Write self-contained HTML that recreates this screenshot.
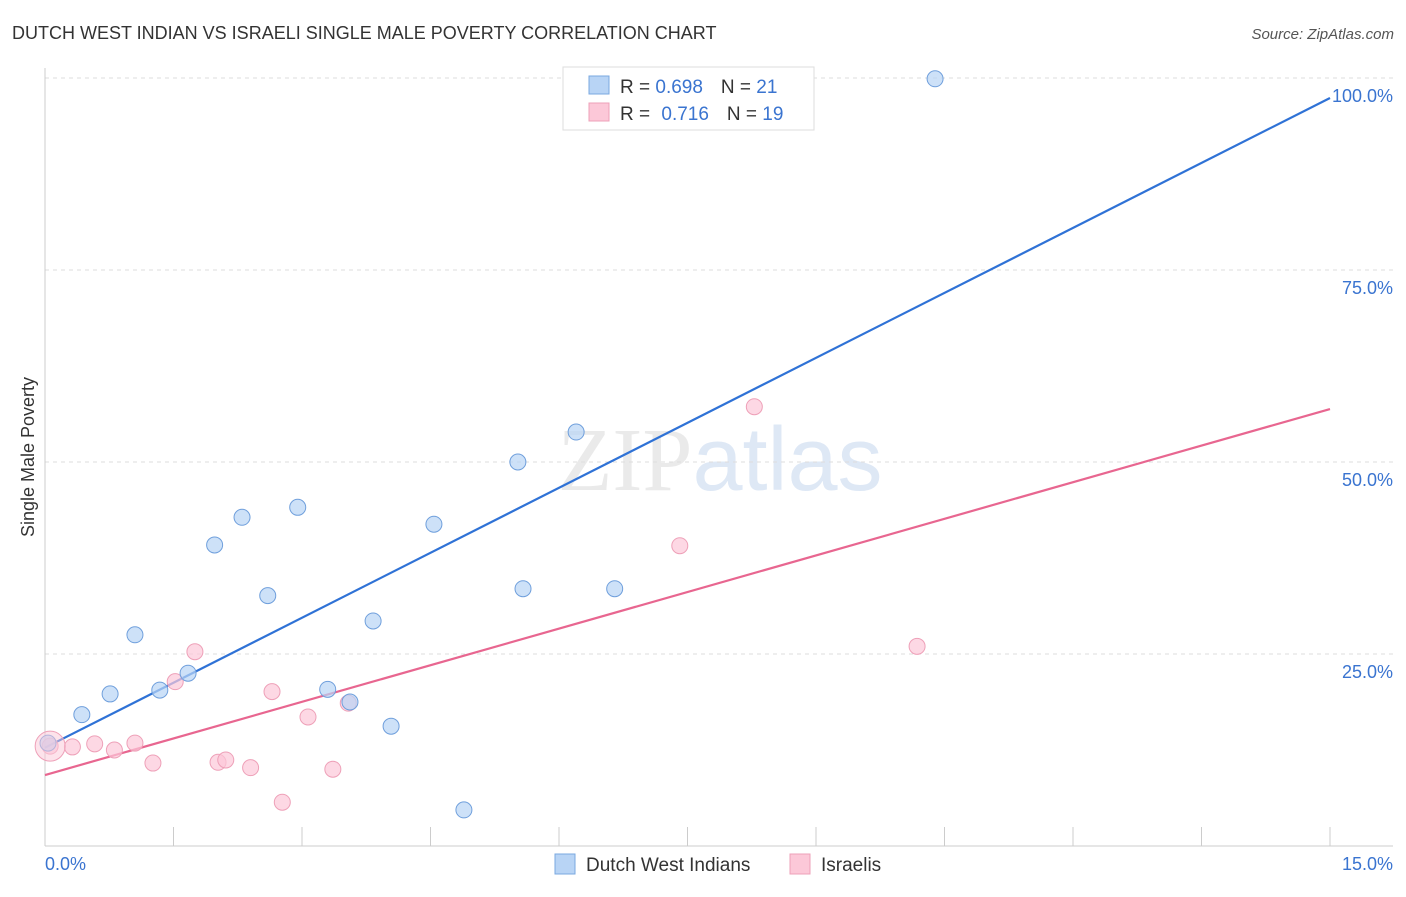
<!DOCTYPE html>
<html><head><meta charset="utf-8"><style>
body{margin:0;background:#fff;font-family:"Liberation Sans",sans-serif}
svg text{font-family:"Liberation Sans",sans-serif}
</style></head><body>
<svg id="chart" width="1406" height="892" xmlns="http://www.w3.org/2000/svg">
<text x="12" y="39" font-size="18" fill="#333">DUTCH WEST INDIAN VS ISRAELI SINGLE MALE POVERTY CORRELATION CHART</text>
<text x="1394" y="39" font-size="15" fill="#555" text-anchor="end" font-style="italic">Source: ZipAtlas.com</text>
<text x="720" y="490" font-size="90" text-anchor="middle" fill="#ddd" opacity="0.6"><tspan font-family="Liberation Serif">ZIP</tspan><tspan fill="#c9d9f0">atlas</tspan></text>
<g id="grid"></g>
<g id="axes"></g>
<g id="lines"></g>
<g id="pts"></g>
<text transform="translate(34,457) rotate(-90)" font-size="18" fill="#333" text-anchor="middle">Single Male Poverty</text>
<g>
<rect x="563" y="67" width="251" height="63" fill="#fff" stroke="#ddd"/>
<rect x="589" y="76" width="20" height="18" fill="#b8d4f5" stroke="#7aa8e0"/>
<rect x="589" y="103" width="20" height="18" fill="#fcc8d8" stroke="#eea0b8"/>
<text x="620" y="93" font-size="19" fill="#333">R = <tspan fill="#3a74d0">0.698</tspan><tspan dx="18">N = </tspan><tspan fill="#3a74d0">21</tspan></text>
<text x="620" y="120" font-size="19" fill="#333">R = <tspan fill="#3a74d0" dx="6">0.716</tspan><tspan dx="18">N = </tspan><tspan fill="#3a74d0">19</tspan></text>
</g>
<g>
<rect x="555" y="854" width="20" height="20" fill="#b8d4f5" stroke="#7aa8e0"/>
<text x="586" y="871" font-size="19" fill="#333">Dutch West Indians</text>
<rect x="790" y="854" width="20" height="20" fill="#fcc8d8" stroke="#eea0b8"/>
<text x="821" y="871" font-size="19" fill="#333">Israelis</text>
</g>
</svg>
<script>
const blueX=[0.035,0.43,0.76,1.05,1.34,1.67,1.98,2.30,2.60,2.95,3.30,3.56,3.83,4.04,4.54,4.89,5.52,5.58,6.20,6.65,10.39];
const blueY=[13.4,17.1,19.8,27.5,20.3,22.5,39.2,42.8,32.6,44.1,20.4,18.75,29.3,15.6,41.9,4.7,50.0,33.5,53.9,33.5,99.9];
const pinkX=[0.06,0.32,0.58,0.81,1.05,1.26,1.52,1.75,2.02,2.11,2.40,2.65,2.77,3.07,3.36,3.54,7.41,8.28,10.18];
const pinkY=[13.0,12.9,13.3,12.5,13.4,10.8,21.4,25.3,10.9,11.2,10.2,20.1,5.7,16.8,10.0,18.6,39.1,57.2,26.0];
const blueLine=[12.8,97.4];
const pinkLine=[9.24,56.9];
const yTicks=[25,50,75,100];
const yTickLabels=["25.0%","50.0%","75.0%","100.0%"];
const xTickLabels=["0.0%","15.0%"];
const NS="http://www.w3.org/2000/svg";
const sx=v=>45+v/15*1285, sy=v=>846-v*7.68;
function mk(p,t,a){const e=document.createElementNS(NS,t);for(const k in a)e.setAttribute(k,a[k]);p.appendChild(e);return e;}
const grid=document.getElementById('grid'),axes=document.getElementById('axes'),lines=document.getElementById('lines'),pts=document.getElementById('pts');
yTicks.forEach((t,i)=>{
 const g=mk(grid,'line',{x1:45,x2:1393,y1:sy(t),y2:sy(t),stroke:'#ddd','stroke-dasharray':'4,4'});
 
 
 const tx=mk(axes,'text',{x:1393,y:sy(t)+(t==100?24:24),'font-size':18,fill:'#3a74d0','text-anchor':'end'});
 tx.textContent=yTickLabels[i];
 
 
});
mk(axes,'line',{x1:45,x2:45,y1:68,y2:846,stroke:'#ccc'});
mk(axes,'line',{x1:45,x2:1393,y1:846,y2:846,stroke:'#ccc'});
for(let i=0;i<=10;i++){const x=sx(i*1.5);const l=mk(axes,'line',{x1:x,x2:x,y1:827,y2:846,stroke:'#ccc'});
 
 }
const xl0=mk(axes,'text',{x:45,y:870,'font-size':18,fill:'#3a74d0'});xl0.textContent=xTickLabels[0];


const xl1=mk(axes,'text',{x:1393,y:870,'font-size':18,fill:'#3a74d0','text-anchor':'end'});xl1.textContent=xTickLabels[1];


function dots(X,Y,fill,stroke,name){X.forEach((x,i)=>{const c=mk(pts,'circle',{cx:sx(x),cy:sy(Y[i]),r:8,fill:fill,stroke:stroke,'stroke-width':1,'fill-opacity':0.7});
 
 });}
dots(pinkX,pinkY,'#fcc8d8','#eea0b8','israeli-point');
dots(blueX,blueY,'#b8d4f5','#6f9fdc','dutch-west-indian-point');
mk(pts,'circle',{cx:sx(pinkX[0]),cy:sy(pinkY[0]),r:15,fill:'#fcc8d8','fill-opacity':0.5,stroke:'#eea0b8'});
const bl=mk(lines,'line',{x1:sx(0),y1:sy(blueLine[0]),x2:sx(15),y2:sy(blueLine[1]),stroke:'#2f72d6','stroke-width':2.2});


const pl=mk(lines,'line',{x1:sx(0),y1:sy(pinkLine[0]),x2:sx(15),y2:sy(pinkLine[1]),stroke:'#e86690','stroke-width':2.2});


</script>
</body></html>
